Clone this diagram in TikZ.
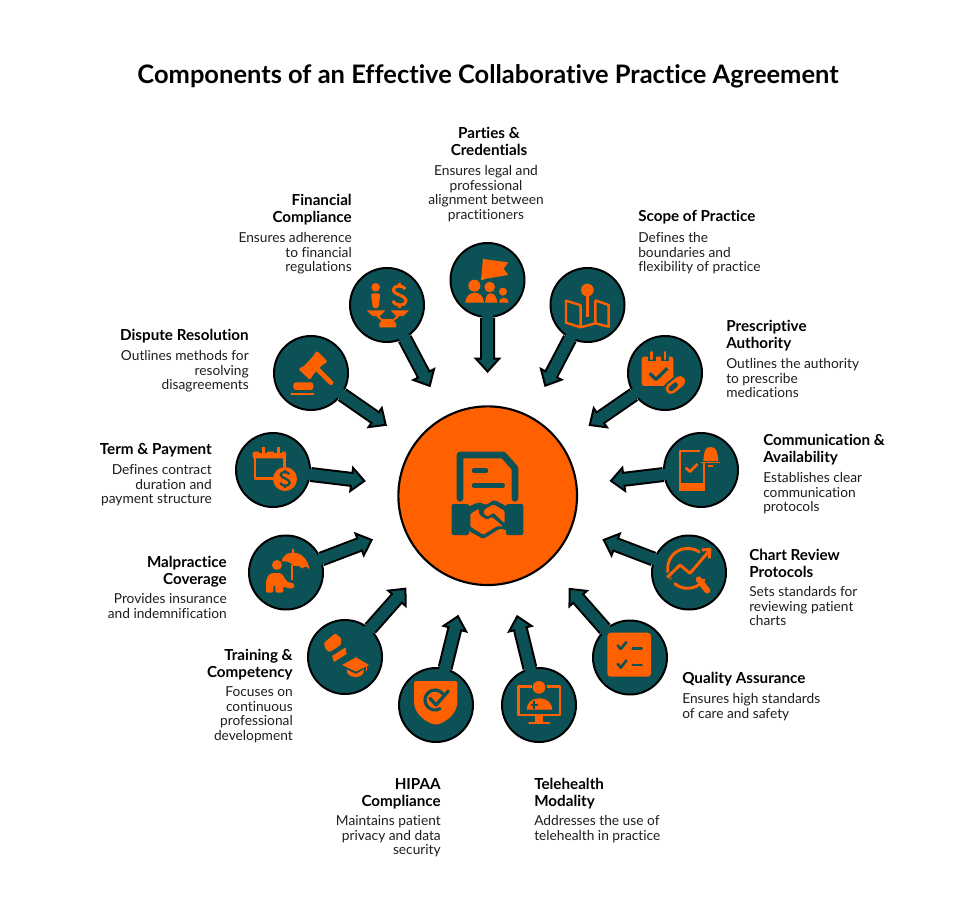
\documentclass[tikz,border=0pt]{standalone}
\usepackage{fontspec}
\setmainfont{Lato}[Ligatures=CommonOff]
\usetikzlibrary{calc,arrows.meta}
\definecolor{cteal}{HTML}{0C5156}
\definecolor{corange}{HTML}{FF6000}
\definecolor{ctext}{HTML}{1E1E1E}
\newcommand\dollarmark[4]{% x y scale colour
  \begin{scope}[shift={(#1,#2)},scale=#3,line width=#3*2.3pt,#4,line cap=butt]
    \draw (18,-20) .. controls (12,-32) and (-18,-32) .. (-18,-18) .. controls (-18,-2) and (20,-2) .. (20,16) .. controls (20,32) and (-14,32) .. (-20,16);
    \draw (0,-38) -- (0,-28) (0,28) -- (0,38);
  \end{scope}}
\tikzset{
  spoke/.style={circle,draw=black,fill=cteal,line width=1.5pt,minimum size=55.5pt,inner sep=0pt},
  hubnode/.style={circle,draw=black,fill=corange,line width=1.6pt,minimum size=134pt,inner sep=0pt},
  cpaarrow/.style={
    preaction={draw=black,line width=11.25pt,arrows=-,shorten >=10pt,shorten <=0pt},
    postaction={draw=cteal,line width=8pt,arrows=-,shorten >=8pt,shorten <=-2.2pt},
    draw=cteal,line width=8pt,shorten <=-2.2pt,
    -{Triangle[length=11.5pt,width=20.5pt,line width=1.5pt,color=black,fill=cteal]}},
  ttl/.style={font=\fontsize{11.4pt}{13pt}\selectfont\bfseries,text=black,inner sep=0pt,yshift=8.4pt},
  dsc/.style={font=\fontsize{10.3pt}{11.1pt}\selectfont,text=ctext,inner sep=0pt,yshift=8pt},
  lr/.style={anchor=north east,align=right},
  ll/.style={anchor=north west,align=left},
  lc/.style={anchor=north,align=center},
  zA/.style={shift={(390,400)},x=.25pt,y=-.25pt},
  zB/.style={shift={(340,230)},x=.25pt,y=-.25pt},
  zC/.style={shift={(590,320)},x=.25pt,y=-.25pt},
  zD/.style={shift={(380,600)},x=.25pt,y=-.25pt},
  zE/.style={shift={(230,330)},x=.25pt,y=-.25pt},
}
\newcommand\st{\rule{0pt}{8.4pt}}
\newcommand\sd{\rule{0pt}{8pt}}
\begin{document}
\begin{tikzpicture}[x=.75pt,y=-.75pt,line join=round]
\fill[white] (0,0) rectangle (975,916);
\useasboundingbox (0,0) rectangle (975,916);
\node[font=\fontsize{19.1pt}{22pt}\selectfont\bfseries,text=black,inner sep=0pt,anchor=base] (maintitle) at (488,84) {Components of an Effective Collaborative Practice Agreement};
% hub and spokes
\node[hubnode] (hub) at (487.7,495.7) {};
\foreach \n/\x/\y in {a/487.5/280,b/587.5/305,c/665/373,d/701/470,e/689/572.5,f/630/657.5,g/539/705,h/436/705,i/345/657,j/286/572.5,k/273/470,l/311/373,m/387/305}{
  \node[spoke] (c\n) at (\x,\y) {};
  \coordinate (t\n) at ($(hub)!92pt!(c\n)$);
}
\foreach \n in {a,b,c,d,e,f,g,h,i,j,k,l,m}{
  \draw[cpaarrow] (c\n) -- (t\n);
}
% hub icon
\begin{scope}[zA]
  \draw[cteal,line width=5pt,line cap=round] (210,295) -- (210,165) -- (340,165) -- (375,205) -- (375,295);
  \draw[cteal,line width=3.4pt,line cap=round] (252,212) -- (288,212) (252,257) -- (338,257);
  \fill[cteal,rounded corners=1.5pt] (185,312) -- (237,312) -- (237,405) -- (185,405) -- cycle;
  \fill[cteal,rounded corners=1.5pt] (348,312) -- (400,312) -- (400,405) -- (348,405) -- cycle;
  \fill[cteal,rounded corners=2pt] (230,322) -- (268,306) -- (288,316) -- (312,299) -- (355,322) -- (355,392) -- (330,385) -- (280,417) -- (235,392) -- cycle;
  \fill[corange,rounded corners=1pt] (241,342) -- (266,326) -- (268,345) -- (292,360) -- (305,350) -- (340,380) -- (322,378) -- (280,404) -- (241,380) -- cycle;
  \fill[corange,rounded corners=1pt] (284,328) -- (311,313) -- (344,333) -- (344,370) -- (310,338) -- (293,350) -- (280,340) -- cycle;
\end{scope}
% Parties, Financial, Scope icons
\begin{scope}[zB]
  \fill[corange] (429,86) -- (436,88) -- (505,97) -- (491,116) -- (505,135) -- (433,147) -- (431,150) -- (423,150) -- cycle;
  \fill[corange] (403,167) circle (18);
  \fill[corange] (376,218) .. controls (378,178) and (430,178) .. (432,218) -- cycle;
  \fill[corange] (449,171) circle (16);
  \fill[corange] (435,218) .. controls (438,210) and (436,190) .. (452,190) .. controls (466,190) and (470,205) .. (472,218) -- cycle;
  \fill[corange] (489,185) circle (12);
  \fill[corange] (478,218) .. controls (478,198) and (504,198) .. (506,218) -- cycle;
  % financial
  \fill[corange] (107,172) circle (13);
  \fill[corange,rounded corners=2pt] (92,190) -- (122,190) -- (118,212) -- (116,235) -- (98,235) -- (96,212) -- cycle;
  \dollarmark{178}{197}{1}{corange}
  \fill[corange] (80,241) -- (136,241) -- (120,258) -- (97,258) -- cycle;
  \fill[corange] (151,241) -- (207,241) -- (190,258) -- (168,258) -- cycle;
  \draw[corange,line width=1.5pt] (112,258) -- (128,272) (175,258) -- (158,272);
  \fill[corange] (118,292) -- (168,292) -- (168,280) -- (155,267) -- (130,267) -- (118,280) -- cycle;
  % scope
  \draw[corange,line width=1.8pt] (723,226) -- (678,212) -- (678,278) -- (722,292) -- (766,280) -- (806,290) -- (806,225) -- (766,211) (722,226) -- (722,292) (766,211) -- (766,280);
  \fill[cteal] (732,205) rectangle (752,268);
  \draw[corange,line width=2.4pt] (742,190) -- (742,262);
  \fill[corange] (742,180) circle (19);
\end{scope}
% Prescriptive, Communication, Chart
\begin{scope}[zC]
  \fill[corange,rounded corners=2pt] (155,110) -- (250,110) -- (250,198) -- (155,198) -- cycle;
  \draw[cteal,line width=3.6pt] (173,115) -- (197,115) (213,115) -- (237,115);
  \draw[corange,line width=2.2pt,line cap=round] (185,97) -- (185,117) (225,97) -- (225,117);
  \draw[cteal,line width=2.5pt] (179,160) -- (198,178) -- (232,145);
  \draw[cteal,line width=11pt,line cap=round] (243,206) -- (270,184);
  \draw[corange,line width=8pt,line cap=round] (243,206) -- (270,184);
  \draw[cteal,line width=3.8pt,line cap=round] (243,206) -- (256,195);
  % comm
  \draw[corange,line width=2.2pt] (330,393) -- (270,393) -- (270,510) -- (342,510) -- (342,430);
  \fill[corange] (266,490) rectangle (346,514);
  \draw[corange,line width=2pt] (287,443) -- (300,455) -- (322,432);
  \fill[corange] (340,423) .. controls (342,395) and (345,381) .. (362,381) .. controls (380,381) and (382,395) .. (385,423) -- cycle;
  \draw[corange,line width=1.2pt] (332,427) -- (391,427);
  \draw[corange,line width=1.2pt] (355,438) -- (370,438);
  % chart
  \draw[corange,line width=2.2pt,line cap=round] ([shift={(150:60)}]293,745) arc[start angle=150,end angle=305,radius=60];
  \draw[corange,line width=2.2pt,line cap=round] ([shift={(35:60)}]293,745) arc[start angle=35,end angle=130,radius=60];
  \draw[cteal,line width=4pt] (232,772) -- (270,735) -- (300,760) -- (355,695);
  \draw[corange,line width=2.2pt] (232,772) -- (270,735) -- (300,760) -- (358,692);
  \draw[corange,line width=2.2pt] (335,690) -- (360,688) -- (358,715);
  \draw[corange,line width=4.4pt,line cap=round] (326,778) -- (352,812);
\end{scope}
% Quality, Telehealth, HIPAA
\begin{scope}[zD]
  \fill[corange,rounded corners=2.5pt] (682,98) rectangle (813,230);
  \draw[cteal,line width=1.9pt] (712,135) -- (722,147) -- (740,125) (712,190) -- (722,203) -- (740,180);
  \draw[cteal,line width=1.9pt,line cap=round] (758,146) -- (785,146) (758,195) -- (785,195);
  % telehealth
  \draw[corange,line width=1.9pt] (455,260) -- (415,260) -- (415,345) -- (540,345) -- (540,260) -- (500,260);
  \fill[corange] (477,262) circle (19);
  \fill[corange] (440,329) .. controls (442,305) and (458,295) .. (478,295) .. controls (498,295) and (515,305) .. (517,329) -- cycle;
  \draw[cteal,line width=1.5pt] (452,315) -- (474,315) (463,304) -- (463,326);
  \fill[corange] (465,345) rectangle (490,368);
  \draw[corange,line width=2.1pt,line cap=round] (448,369) -- (507,369);
  % hipaa
  \fill[corange,rounded corners=1.5pt] (102,243) -- (232,243) -- (232,300) .. controls (232,340) and (200,365) .. (168,375) .. controls (135,365) and (102,340) .. (102,300) -- cycle;
  \draw[cteal,line width=2.4pt,line cap=round] ([shift={(-40:30)}]165,300) arc[start angle=-40,end angle=-300,radius=30];
  \draw[cteal,line width=2.4pt,line cap=round] (150,295) -- (168,315) -- (205,273);
\end{scope}
% Dispute, Term, Malpractice, Training
\begin{scope}[zE]
  \draw[corange,line width=3.6pt,line cap=round] (250,105) -- (303,158);
  \fill[corange,rounded corners=1pt] (205,117) -- (222,108) -- (250,78) -- (260,62) -- (293,95) -- (277,105) -- (250,133) -- (240,150) -- cycle;
  \fill[corange,rounded corners=2pt] (190,180) -- (190,157) -- (250,157) -- (250,180) -- cycle;
  \draw[corange,line width=1.6pt,line cap=round] (184,191) -- (250,191);
  % term
  \fill[corange,rounded corners=1pt] (68,365) -- (168,365) -- (168,385) -- (68,385) -- cycle;
  \draw[corange,line width=2.1pt] (75,380) -- (75,445) -- (130,445) (163,380) -- (163,412);
  \draw[cteal,line width=3.2pt] (88,364) -- (112,364) (133,364) -- (157,364);
  \draw[corange,line width=2.1pt] (100,352) -- (100,374) (145,352) -- (145,374);
  \fill[corange] (165,447) circle (36);
  \dollarmark{165}{447}{.72}{cteal}
  % malpractice
  \fill[corange] (155,695) .. controls (160,672) and (175,668) .. (190,668) -- (190,658) -- (190,668) .. controls (215,668) and (235,690) .. (238,718) .. controls (230,708) and (224,708) .. (216,716) .. controls (208,706) and (200,706) .. (192,708) .. controls (180,696) and (168,692) .. (155,695) -- cycle;
  \draw[corange,line width=1.5pt] (190,658) -- (190,670);
  \draw[corange,line width=1.7pt] (187,705) -- (187,750);
  \fill[corange] (141,705) circle (15);
  \fill[corange,rounded corners=1.5pt] (108,788) -- (108,750) -- (120,729) -- (155,729) -- (168,752) -- (178,759) -- (192,759) -- (192,775) -- (172,775) -- (160,768) -- (160,788) -- (136,788) -- (136,765) -- (130,765) -- (130,788) -- cycle;
  % training
  \fill[corange,rounded corners=1pt] (282,938) -- (316,910) -- (334,925) -- (332,945) -- (298,967) -- (285,955) -- cycle;
  \fill[corange] (306,978) -- (347,952) -- (350,972) -- (312,996) -- cycle;
  \fill[corange] (336,1005) -- (378,982) -- (417,1005) -- (378,1025) -- cycle;
  \fill[corange] (350,1018) -- (378,1032) -- (402,1018) -- (400,1030) .. controls (392,1045) and (362,1045) .. (352,1030) -- cycle;
  \draw[corange,line width=1.2pt] (410,1006) -- (410,1022);
\end{scope}
% labels
\node[ttl,lc] (la) at (489,138) {\st Parties \&\\Credentials};
\node[dsc,lc] (da) at (486,175) {\sd Ensures legal and\\professional\\alignment between\\practitioners};
\node[ttl,ll] (lb) at (638,221) {\st Scope of Practice};
\node[dsc,ll] (db) at (638,242) {\sd Defines the\\boundaries and\\flexibility of practice};
\node[ttl,ll] (lc) at (726,331) {\st Prescriptive\\Authority};
\node[dsc,ll] (dc) at (726,368) {\sd Outlines the authority\\to prescribe\\medications};
\node[ttl,ll] (ld) at (763,445) {\st Communication \&\\Availability};
\node[dsc,ll] (dd) at (763,482) {\sd Establishes clear\\communication\\protocols};
\node[ttl,ll] (le) at (749,560) {\st Chart Review\\Protocols};
\node[dsc,ll] (de) at (749,596) {\sd Sets standards for\\reviewing patient\\charts};
\node[ttl,ll] (lf) at (682,683) {\st Quality Assurance};
\node[dsc,ll] (df) at (682,703) {\sd Ensures high standards\\of care and safety};
\node[ttl,ll] (lg) at (534,789) {\st Telehealth\\Modality};
\node[dsc,ll] (dg) at (534,825) {\sd Addresses the use of\\telehealth in practice};
\node[ttl,lr] (lh) at (441,789) {\st HIPAA\\Compliance};
\node[dsc,lr] (dh) at (441,825) {\sd Maintains patient\\privacy and data\\security};
\node[ttl,lr] (li) at (293,660) {\st Training \&\\Competency};
\node[dsc,lr] (di) at (293,696) {\sd Focuses on\\continuous\\professional\\development};
\node[ttl,lr] (lj) at (227,567) {\st Malpractice\\Coverage};
\node[dsc,lr] (dj) at (227,603) {\sd Provides insurance\\and indemnification};
\node[ttl,lr] (lk) at (212,454) {\st Term \& Payment};
\node[dsc,lr] (dk) at (212,474) {\sd Defines contract\\duration and\\payment structure};
\node[ttl,lr] (ll) at (249,340) {\st Dispute Resolution};
\node[dsc,lr] (dl) at (249,360) {\sd Outlines methods for\\resolving\\disagreements};
\node[ttl,lr] (lm) at (352,205) {\st Financial\\Compliance};
\node[dsc,lr] (dm) at (352,242) {\sd Ensures adherence\\to financial\\regulations};
\end{tikzpicture}
\end{document}
